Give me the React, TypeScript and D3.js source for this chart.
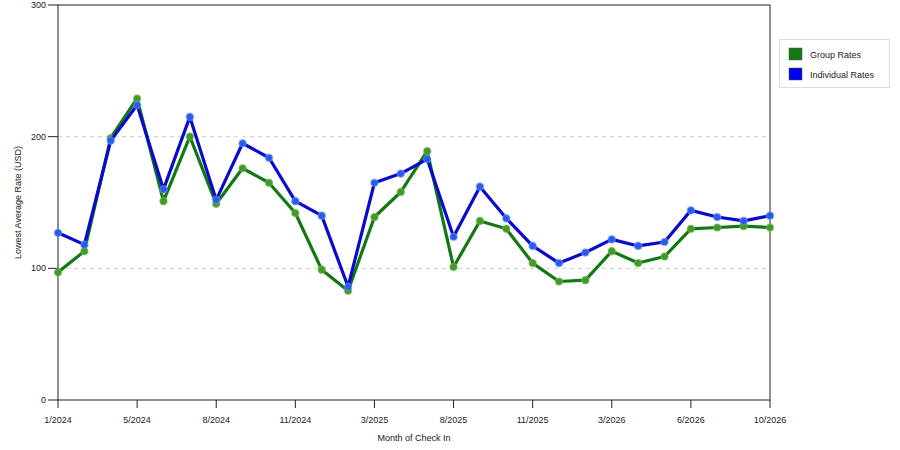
import * as d3 from 'd3'

const months = [
  '1/2024', '2/2024', '3/2024', '5/2024', '6/2024', '7/2024', '8/2024', '9/2024', '10/2024', '11/2024',
  '12/2024', '2/2025', '3/2025', '4/2025', '6/2025', '8/2025', '9/2025', '10/2025', '11/2025', '12/2025',
  '2/2026', '3/2026', '4/2026', '5/2026', '6/2026', '7/2026', '8/2026', '10/2026',
]
const groupRates = [
  97, 113, 199, 229, 151, 200, 149, 176, 165, 142,
  99, 83, 139, 158, 189, 101, 136, 130, 104, 90,
  91, 113, 104, 109, 130, 131, 132, 131,
]
const individualRates = [
  127, 118, 197, 224, 160, 215, 152, 195, 184, 151,
  140, 86, 165, 172, 183, 124, 162, 138, 117, 104,
  112, 122, 117, 120, 144, 139, 136, 140,
]
const yTicks = [0, 100, 200, 300]
const gridValues = [100, 200]

const series = [
  { name: 'Group Rates', values: groupRates, line: '#137813', dot: '#3f9a2a', halo: 'rgba(120,180,80,0.55)', swatch: '#137813' },
  { name: 'Individual Rates', values: individualRates, line: '#0a0acc', dot: '#2a5ae8', halo: 'rgba(100,150,255,0.55)', swatch: '#0000ee' },
]

const W = 900
const H = 450
const left = 58
const right = 770
const top = 5
const bottom = 400
const font = '"Liberation Sans", Arial, sans-serif'

export default function App() {
  const x = d3.scalePoint<string>().domain(months).range([left, right])
  const y = d3.scaleLinear().domain([0, 300]).range([bottom, top])
  const line = d3.line<number>().x((_, i) => x(months[i])!).y(d => y(d))
  const xTicks = months.filter((_, i) => i % 3 === 0)

  return (
    <svg width={W} height={H} style={{ position: 'absolute', left: 0, top: 0, background: '#fff' }} fontFamily={font}>
      {gridValues.map(v => (
        <line key={v} x1={left} x2={right} y1={y(v)} y2={y(v)} stroke="#d0d0d0" strokeDasharray="4,4" />
      ))}
      <rect x={left} y={top} width={right - left} height={bottom - top} fill="none" stroke="#222" strokeWidth={1} />
      {yTicks.map(v => (
        <g key={v}>
          <line x1={left - 10} x2={left} y1={y(v)} y2={y(v)} stroke="#222" />
          <text x={left - 12} y={y(v)} dy="0.35em" fontSize={9} textAnchor="end" fill="#222">{v}</text>
        </g>
      ))}
      {xTicks.map(m => (
        <g key={m}>
          <line x1={x(m)} x2={x(m)} y1={bottom} y2={bottom + 8} stroke="#222" />
          <text x={x(m)} y={bottom + 23} fontSize={9} textAnchor="middle" fill="#222">{m}</text>
        </g>
      ))}
      <text x={(left + right) / 2} y={441} fontSize={9} textAnchor="middle" fill="#222">Month of Check In</text>
      <text transform={`translate(21,${(top + bottom) / 2}) rotate(-90)`} fontSize={9} textAnchor="middle" fill="#222">Lowest Average Rate (USD)</text>

      {series.map(s => (
        <g key={s.name}>
          <path d={line(s.values)!} fill="none" stroke={s.line} strokeWidth={3.2} strokeLinejoin="round" />
          {s.values.map((v, i) => (
            <circle key={i} cx={x(months[i])} cy={y(v)} r={3.6} fill={s.dot} stroke={s.halo} strokeWidth={1.5} />
          ))}
        </g>
      ))}

      <rect x={779.5} y={39.5} width={110} height={48} fill="#fff" stroke="#ddd" />
      {series.map((s, i) => (
        <g key={s.name} transform={`translate(789,${48 + i * 20})`}>
          <rect width={13} height={12} fill={s.swatch} stroke="#555" strokeWidth={0.5} />
          <text x={21} y={10} fontSize={9} fill="#222">{s.name}</text>
        </g>
      ))}
    </svg>
  )
}
